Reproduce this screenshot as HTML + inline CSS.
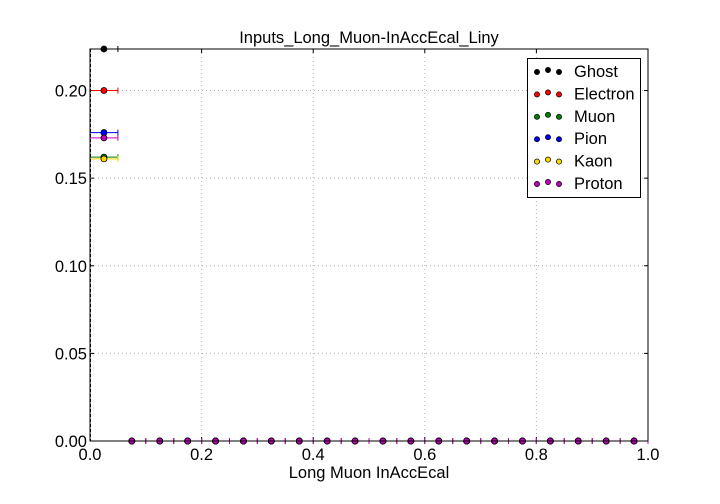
<!DOCTYPE html>
<html><head><meta charset="utf-8"><style>
body{margin:0;background:#fff;}
svg{display:block;font-family:"Liberation Sans","DejaVu Sans",sans-serif;}
</style></head><body>
<svg id="chart" width="720" height="504" viewBox="0 0 720 504"></svg>
<script>
const seriesNames=["Ghost","Electron","Muon","Pion","Kaon","Proton"];
const seriesColors=["#000000","#ff0000","#008000","#0000ff","#ffd700","#bf00bf"];
const firstBinValues=[0.2237,0.200,0.162,0.176,0.161,0.173];
const binCenters=[0.025,0.075,0.125,0.175,0.225,0.275,0.325,0.375,0.425,0.475,0.525,0.575,0.625,0.675,0.725,0.775,0.825,0.875,0.925,0.975];
const restValues=[0,0,0,0,0,0,0,0,0,0,0,0,0,0,0,0,0,0,0];
const xTicks=[0,0.2,0.4,0.6,0.8,1.0];
const xTickLabels=["0.0","0.2","0.4","0.6","0.8","1.0"];
const yTicks=[0,0.05,0.10,0.15,0.20];
const yTickLabels=["0.00","0.05","0.10","0.15","0.20"];
const binHalf=0.025;

const L=90,R=648,T=49,B=441,YMAX=0.2237;
const FS='16.5';
const sx=v=>L+(R-L)*v;
const sy=v=>B-(B-T)*v/YMAX;
const svg=document.getElementById('chart');
const NS="http://www.w3.org/2000/svg";
function mk(tag,attrs,parent){const e=document.createElementNS(NS,tag);for(const k in attrs)e.setAttribute(k,attrs[k]);(parent||svg).appendChild(e);return e;}

xTicks.forEach((t,i)=>{
  if(i>0&&i<xTicks.length-1){const g=mk('line',{x1:sx(t),x2:sx(t),y1:T,y2:B,stroke:'#b0b0b0','stroke-dasharray':'1,3'});
  
  }
  const tk=mk('text',{x:sx(t),y:B+19,'text-anchor':'middle','font-size':FS});tk.textContent=xTickLabels[i];
  
  
  mk('line',{x1:sx(t),x2:sx(t),y1:B,y2:B-4,stroke:'#000'});
  mk('line',{x1:sx(t),x2:sx(t),y1:T,y2:T+4,stroke:'#000'});
});
yTicks.forEach((t,i)=>{
  if(i>0){const g=mk('line',{x1:L,x2:R,y1:sy(t),y2:sy(t),stroke:'#b0b0b0','stroke-dasharray':'1,3'});
  
  }
  const tk=mk('text',{x:L-3,y:sy(t)+6,'text-anchor':'end','font-size':FS});tk.textContent=yTickLabels[i];
  
  
  mk('line',{x1:L,x2:L+4,y1:sy(t),y2:sy(t),stroke:'#000'});
  mk('line',{x1:R,x2:R-4,y1:sy(t),y2:sy(t),stroke:'#000'});
});

seriesNames.forEach((name,s)=>{
  const g=mk('g',{});
  
  
  const vals=[firstBinValues[s]].concat(restValues);
  vals.forEach((v,i)=>{
    const cx=sx(binCenters[i]),cy=sy(v);
    mk('line',{x1:sx(binCenters[i]-binHalf),x2:sx(binCenters[i]+binHalf),y1:cy,y2:cy,stroke:seriesColors[s],'stroke-width':1},g);
    mk('line',{x1:sx(binCenters[i]+binHalf),x2:sx(binCenters[i]+binHalf),y1:cy-3,y2:cy+3,stroke:seriesColors[s]},g);
    const c=mk('circle',{cx:cx,cy:cy,r:3,fill:seriesColors[s],stroke:'#000','stroke-width':0.8},g);
    
    
  });
});
mk('line',{x1:L+0.5,x2:L+0.5,y1:T,y2:B,stroke:'#000','stroke-dasharray':'3,2'});

const fr=mk('rect',{x:L,y:T,width:R-L,height:B-T,fill:'none',stroke:'#000','stroke-width':1});



const title=mk('text',{x:(L+R)/2,y:T-6,'text-anchor':'middle','font-size':FS});title.textContent='Inputs_Long_Muon-InAccEcal_Liny';


const xl=mk('text',{x:(L+R)/2,y:B+37,'text-anchor':'middle','font-size':FS});xl.textContent='Long Muon InAccEcal';



const lg=mk('g',{});


mk('rect',{x:527.5,y:58.5,width:113,height:139,fill:'#fff',stroke:'#000'},lg);
seriesNames.forEach((name,s)=>{
  const y=71+s*22.4;
  const e=mk('g',{},lg);
  
  
  [537,548,559].forEach((x,k)=>mk('circle',{cx:x,cy:y+(k==1?-1:1),r:2.6,fill:seriesColors[s],stroke:'#000','stroke-width':0.7},e));
  const t=mk('text',{x:574,y:y+6,'font-size':FS},e);t.textContent=name;
});
</script>
</body></html>
